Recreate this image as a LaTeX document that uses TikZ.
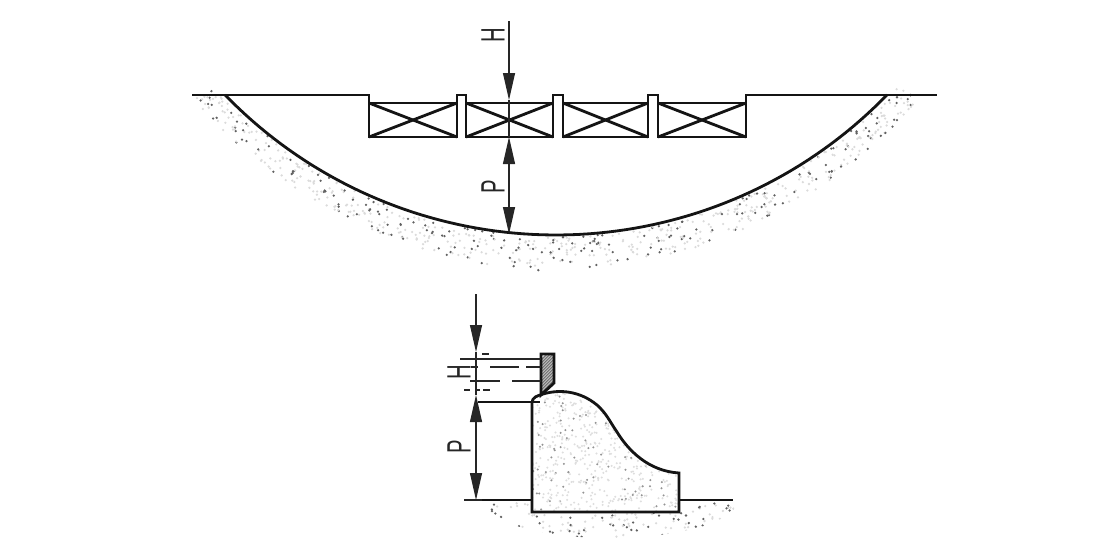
\documentclass[tikz,border=0pt]{standalone}
\usepackage{fontspec}
\setmainfont{Liberation Sans}
\usetikzlibrary{arrows.meta}
\tikzset{>={Triangle[length=2.7mm,width=1.2mm]}}
\tikzset{heavy/.style={line width=.8pt,black!92},
  fine/.style={line width=.32pt,black!85},
  dimlabel/.style={rotate=90,xscale=.6,inner sep=0pt,font=\fontsize{9.6}{10}\selectfont,black!85}}
\newcommand*{\grain}[2]{\fill[black!#2] #1 circle(.36pt);}
\begin{document}
\begin{tikzpicture}[x=.1mm,y=-.1mm]
\useasboundingbox (0,0) rectangle (1117,542);
\pgfmathsetseed{11}
% sand under the channel
\foreach \i in {1,...,650} {
  \pgfmathsetmacro{\ang}{-48+96*rnd}
  \pgfmathsetmacro{\dep}{2+34*rnd*(1-.3*abs(\ang)/47)}
  \pgfmathsetmacro{\tone}{rnd<.3 ? 62 : 14}
  \coordinate (g) at ({556+(461+\dep)*sin(\ang)},{-226+(461+\dep)*cos(\ang)});
  \grain{(g)}{\tone}
}
\draw[heavy] plot[domain=-45.9:45.9,samples=80] ({556+461*sin(\x)},{-226+461*cos(\x)});
\draw[heavy] (192,95) -- (369,95) -- (369,137) -- (457,137) -- (457,95) -- (466,95) -- (466,137)
  -- (553,137) -- (553,95) -- (563,95) -- (563,137) -- (648,137) -- (648,95) -- (658,95)
  -- (658,137) -- (746,137) -- (746,95) -- (937,95);
\foreach \a/\b in {369/457,466/553,563/648,658/746} {
  \draw[heavy] (\a,103) -- (\b,103);
  \draw[heavy] (\a,103) -- (\b,137);
  \draw[heavy] (\a,137) -- (\b,103);
}
\coordinate (topH) at (509,21);
\coordinate (crestT) at (509,100);
\coordinate (sillT) at (509,137);
\coordinate (bedT) at (509,234);
\draw[fine,->] (topH) -- (crestT);
\draw[fine] (crestT) -- (sillT);
\draw[fine,<->] (sillT) -- (bedT);
\node[dimlabel] (labHtop) at (493,35) {H};
\node[dimlabel] (labPtop) at (493,187) {P};

% ground under the weir
\begin{scope}
  \clip (610,500) ellipse (128 and 38);
  \foreach \i in {1,...,170} {
    \pgfmathsetmacro{\gx}{485+250*rnd}
    \pgfmathsetmacro{\gy}{503+34*rnd}
    \pgfmathsetmacro{\tone}{rnd<.4 ? 62 : 14}
    \grain{(\gx,\gy)}{\tone}
  }
\end{scope}
% weir body
\begin{scope}
  \clip (532,512) -- (532,403) .. controls (532,397) and (537,396) .. (543,394)
    .. controls (560,389) and (580,391) .. (597,405)
    .. controls (607,414) and (610,422) .. (617,432)
    .. controls (628,450) and (648,471) .. (679,473) -- (679,512) -- cycle;
  \fill[white] (525,385) rectangle (685,515);
  \foreach \i in {1,...,620} {
    \pgfmathsetmacro{\gx}{532+147*rnd}
    \pgfmathsetmacro{\gy}{390+122*rnd}
    \pgfmathsetmacro{\tone}{rnd<.15 ? 42 : 13}
    \fill[black!\tone] (\gx,\gy) circle(.32pt);
  }
\end{scope}
\draw[heavy] (532,512) -- (532,403) .. controls (532,397) and (537,396) .. (543,394)
    .. controls (560,389) and (580,391) .. (597,405)
    .. controls (607,414) and (610,422) .. (617,432)
    .. controls (628,450) and (648,471) .. (679,473) -- (679,512) -- cycle;
\draw[heavy] (482,500) -- (532,500);
\draw[heavy] (679,500) -- (733,500);
\draw[heavy] (478,402) -- (540,402);
\draw[fine] (464,500) -- (482,500);
% gate
\begin{scope}
  \clip (541,395) -- (541,354) -- (554,354) -- (554,383) -- cycle;
  \fill[white] (541,354) rectangle (554,395);
  \foreach \k in {0,3,...,60}
    \draw[line width=.4pt,black!55] (541,360+\k) -- (554,347+\k);
\end{scope}
\draw[heavy] (541,395) -- (541,354) -- (554,354) -- (554,383) -- cycle;
% water lines
\draw[fine] (460,359) -- (541,359);
\foreach \a/\b/\c in {482/489/354,471/478/367,490/519/367,526/541/367,470/500/381,512/541/381,464/470/390,475/480/390,483/490/390}
  \draw[fine] (\a,\c) -- (\b,\c);
\coordinate (topW) at (476,294);
\coordinate (surfW) at (476,352);
\coordinate (crestW) at (476,395);
\coordinate (baseW) at (476,500);
\draw[fine,->] (topW) -- (surfW);
\draw[fine] (surfW) -- (crestW);
\draw[fine,<->] (crestW) -- (baseW);
\node[dimlabel] (labHlow) at (459,372) {H};
\node[dimlabel] (labPlow) at (459,447) {P};
\end{tikzpicture}
\end{document}
